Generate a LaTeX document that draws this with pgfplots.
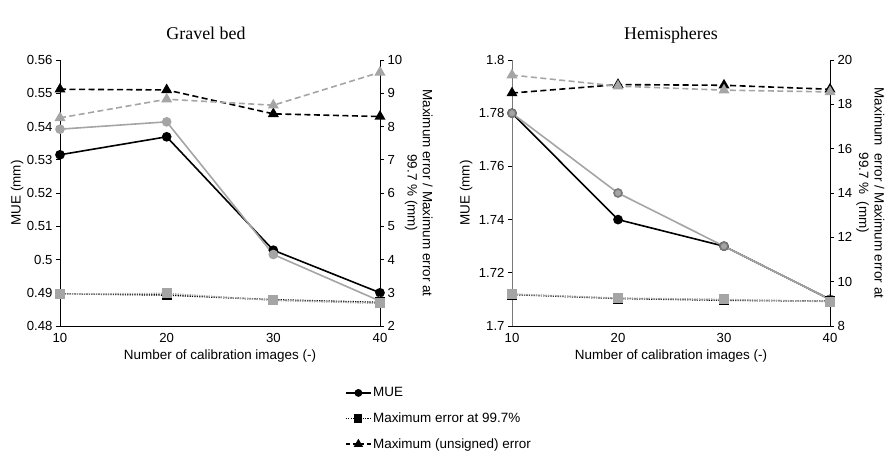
\documentclass[border=0pt]{standalone}
\usepackage{fontspec}
\setmainfont{Liberation Sans}
\newfontfamily\titlefont{Liberation Serif}
\usepackage{pgfplots}
\pgfplotsset{compat=1.18}

\definecolor{sgray}{RGB}{165,165,165}
\definecolor{axgray}{RGB}{120,120,120}

\newcommand\ticksize{\fontsize{13.2}{15}\selectfont}
\newcommand\labsize{\fontsize{13.5}{15.5}\selectfont}

\pgfplotsset{
  common/.style={
    scale only axis, height=266bp,
    xmin=10, xmax=40, clip=false,
    tick align=outside, major tick length=4bp,
    axis line style={line width=0.8bp},
    every tick/.style={line width=0.8bp, black},
    every tick label/.append style={font=\ticksize},
    /pgf/number format/assume math mode=true,
    yticklabel style={/pgf/number format/fixed, /pgf/number format/precision=2},
    label style={font=\labsize},
  },
  prim/.style={
    common,
    axis x line*=bottom, axis y line*=left,
    xtick={10,20,30,40}, xtick style={draw=none},
    xlabel={Number of calibration images (-)},
    xlabel style={yshift=0bp},
    title style={font=\titlefont\fontsize{18}{20}\selectfont, anchor=base, yshift=15bp},
  },
  sec/.style={
    common,
    axis x line=none, axis y line*=right,
    ylabel style={anchor=center, rotate=180, align=center},
  },
  % series styles
  mueB/.style={black, line width=1.6bp, mark=*, mark size=4bp, mark options={solid, fill=black}},
  mueG/.style={sgray, line width=1.6bp, mark=*, mark size=4bp, mark options={solid, fill=sgray}},
  sqB/.style={black, line width=1.5bp, dash pattern=on 1.2bp off 1.2bp, mark=square*, mark size=4.3bp, mark options={solid, fill=black}},
  sqG/.style={sgray, line width=1.5bp, dash pattern=on 1.2bp off 1.2bp, mark=square*, mark size=4.3bp, mark options={solid, fill=sgray}},
  triB/.style={black, line width=1.6bp, dash pattern=on 6bp off 3.5bp, mark=triangle*, mark size=4.8bp, mark options={solid, fill=black}},
  triG/.style={sgray, line width=1.6bp, dash pattern=on 6bp off 3.5bp, mark=triangle*, mark size=4.8bp, mark options={solid, fill=sgray}},
}

\begin{document}
\begin{tikzpicture}
\useasboundingbox (0,0) rectangle (886bp,452bp);

% ---------------- Gravel bed ----------------
\begin{axis}[prim, at={(60bp,126bp)}, anchor=south west, width=320bp,
  title={Gravel bed},
  title style={xshift=-14bp},
  ymin=0.48, ymax=0.56, ytick={0.48,0.49,...,0.561},
  ylabel={MUE (mm)},
  ylabel style={at={(axis description cs:-0.134,0.5)}, anchor=center},
  legend cell align=left,
  legend style={at={(axis description cs:0.8906,-0.225)}, anchor=north west,
    draw=none, fill=none, font=\labsize, row sep=11.5bp,
    inner sep=0pt, nodes={inner sep=1.5bp}},
  legend image code/.code={\draw[mark repeat=2, mark phase=2, #1] plot coordinates {(0bp,0bp) (12.5bp,0bp) (25bp,0bp)};},
]
\addplot[mueB, forget plot] coordinates {(10,0.5315) (20,0.5369) (30,0.5028) (40,0.4900)};
\addplot[mueG, forget plot] coordinates {(10,0.5392) (20,0.5414) (30,0.5015) (40,0.4875)};
\addlegendimage{mueB, line width=1.4bp, mark size=3.2bp}
\addlegendentry{MUE}
\addlegendimage{sqB, line width=1.4bp, mark size=3.4bp}
\addlegendentry{Maximum error at 99.7\%}
\addlegendimage{triB, line width=1.4bp, dash pattern=on 4bp off 3bp, mark size=4bp}
\addlegendentry{Maximum (unsigned) error}
\end{axis}
\begin{axis}[sec, at={(60bp,126bp)}, anchor=south west, width=320bp,
  ymin=2, ymax=10, ytick={2,3,...,10},
  ylabel={Maximum error / Maximum error at\\99.7 \% (mm)},
  ylabel style={at={(axis description cs:1.121,0.5)}},
]
\addplot[sqB] coordinates {(10,2.97) (20,2.93) (30,2.79) (40,2.71)};
\addplot[sqG] coordinates {(10,2.96) (20,2.98) (30,2.77) (40,2.68)};
\addplot[triB] coordinates {(10,9.12) (20,9.10) (30,8.38) (40,8.30)};
\addplot[triG] coordinates {(10,8.26) (20,8.82) (30,8.64) (40,9.63)};
\end{axis}

% ---------------- Hemispheres ----------------
\begin{axis}[prim, at={(512bp,126bp)}, anchor=south west, width=318bp,
  title={Hemispheres},
  ymin=1.7, ymax=1.8, ytick={1.7,1.72,...,1.801},
  y axis line style={axgray},
  ylabel={MUE (mm)},
  ylabel style={at={(axis description cs:-0.1445,0.5)}, anchor=center},
]
\addplot[mueB] coordinates {(10,1.78) (20,1.74) (30,1.73) (40,1.71)};
\addplot[mueG, mark options={solid, fill=sgray, draw=axgray}] coordinates {(10,1.78) (20,1.75) (30,1.73) (40,1.71)};
\end{axis}
\begin{axis}[sec, at={(512bp,126bp)}, anchor=south west, width=318bp,
  ymin=8, ymax=20, ytick={8,10,...,20},
  ylabel={Maximum\ \ error / Maximum error at\\99.7 \%\ \ (mm)},
  ylabel style={at={(axis description cs:1.127,0.5)}},
]
\addplot[sqB] coordinates {(10,9.42) (20,9.24) (30,9.16) (40,9.12)};
\addplot[sqG] coordinates {(10,9.44) (20,9.26) (30,9.20) (40,9.10)};
\addplot[triB] coordinates {(10,18.51) (20,18.89) (30,18.86) (40,18.68)};
\addplot[triG] coordinates {(10,19.32) (20,18.82) (30,18.64) (40,18.56)};
\end{axis}
\end{tikzpicture}
\end{document}
